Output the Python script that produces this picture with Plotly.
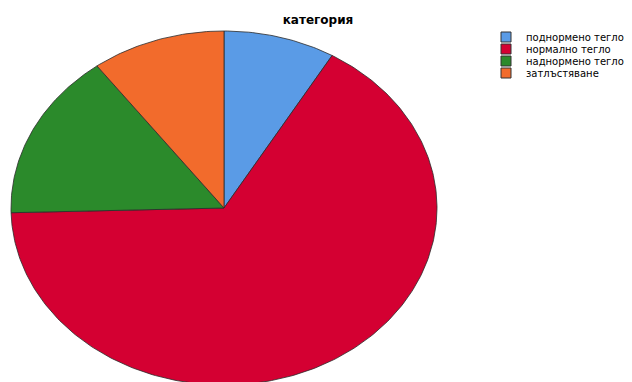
import numpy as np
import plotly.graph_objects as go

# ---- data ----
categories = ["поднормено тегло", "нормално тегло", "наднормено тегло", "затлъстяване"]
counts = [5, 39, 9, 6]
colors = ["#5A9BE6", "#D40032", "#2B8A2B", "#F26B2C"]
title_text = "категория"

# page body has an 8px margin; the figure fills the rest of the window
OFF = 8
W, H = 632 - OFF, 382 - OFF

# ---- geometry of the (stretched) pie, in window-pixel axis units ----
CX, CY, RX, RY = 224, 208, 213, 177
FONT = "DejaVu Sans"

fig = go.Figure()
total = float(sum(counts))
start = 0.0
for name, val, col in zip(categories, counts, colors):
    frac = val / total
    t = np.linspace(start, start + frac, max(int(frac * 400), 8)) * 2 * np.pi
    xs = np.concatenate([[CX], CX + RX * np.sin(t), [CX]])
    ys = np.concatenate([[CY], CY - RY * np.cos(t), [CY]])
    fig.add_trace(go.Scatter(
        x=xs, y=ys, mode="lines", fill="toself", fillcolor=col,
        line=dict(color="#2b2b2b", width=0.8),
        name=name, showlegend=False, hoveron="fills",
        text=f"{name}: {val} ({frac*100:.1f}%)", hoverinfo="text",
    ))
    start += frac

# legend entries: one small legend per item, so the items can sit close together
legend_layout = {}
for i, (name, col) in enumerate(zip(categories, colors)):
    key = "legend" if i == 0 else f"legend{i+1}"
    fig.add_trace(go.Scatter(
        x=[None], y=[None], mode="markers", name=name, legend=key,
        marker=dict(symbol="square", size=10, color=col,
                    line=dict(color="#333333", width=1)),
    ))
    yc = 37 + 12 * i
    legend_layout[key] = dict(
        x=(486 - OFF) / W, xanchor="left",
        y=1 - (yc - OFF) / H, yanchor="middle",
        font=dict(family=FONT, size=10, color="#000000"),
        bgcolor="rgba(0,0,0,0)", borderwidth=0,
    )

fig.update_layout(
    width=W, height=H,
    margin=dict(l=0, r=0, t=0, b=0, autoexpand=False),
    paper_bgcolor="white", plot_bgcolor="white",
    title=dict(text=f"<b>{title_text}</b>", x=(318 - OFF) / W, xanchor="center",
               y=1 - (20 - OFF) / H, yanchor="middle",
               font=dict(family=FONT, size=12, color="#000000")),
    xaxis=dict(range=[OFF, OFF + W], visible=False, fixedrange=True),
    yaxis=dict(range=[OFF + H, OFF], visible=False, fixedrange=True),
    showlegend=True,
    **legend_layout,
)

fig.write_html("out.html")
